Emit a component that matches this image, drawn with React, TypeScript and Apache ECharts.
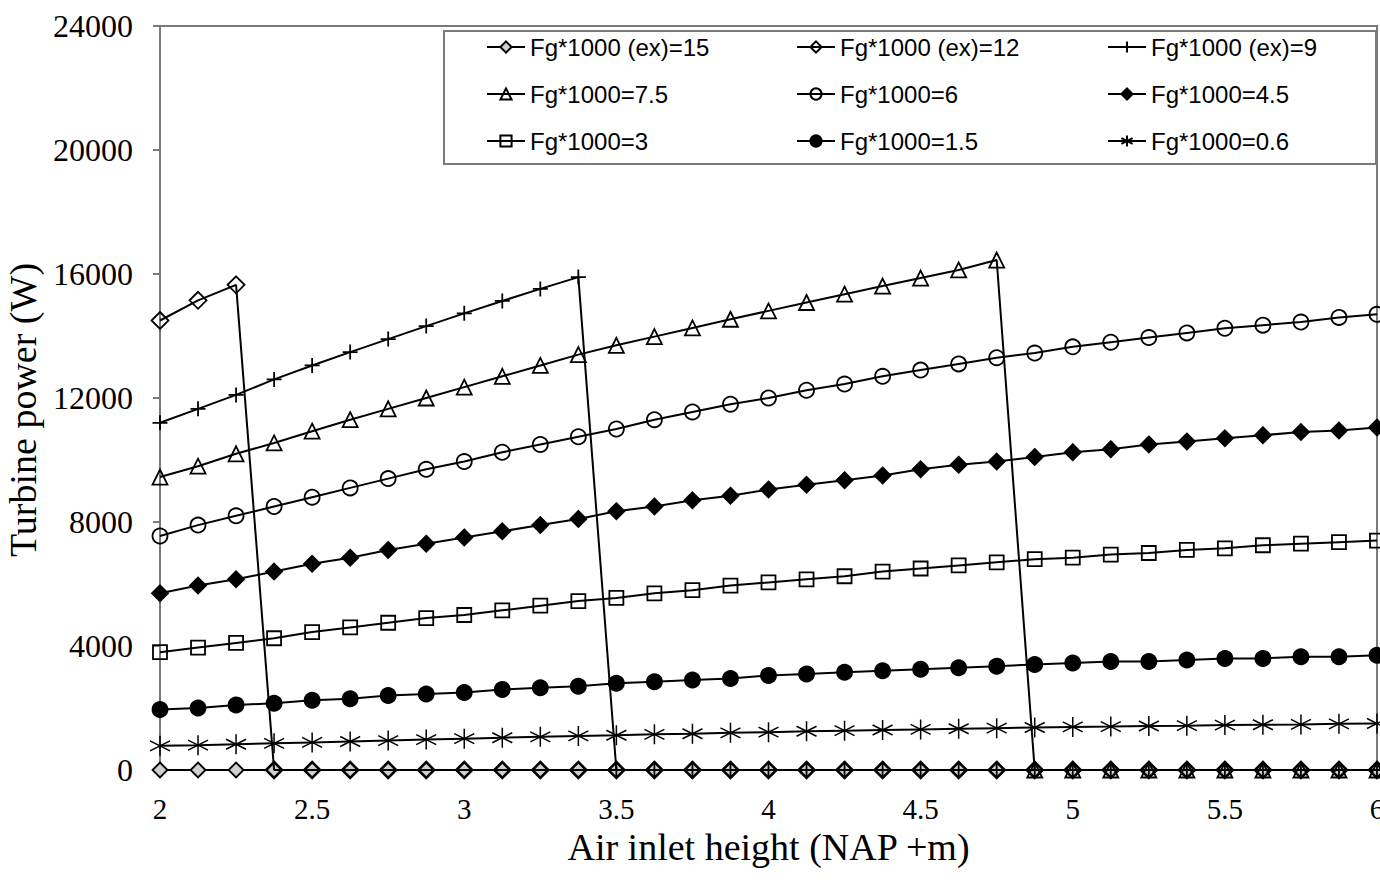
import React, { useEffect, useRef } from "react";
import * as echarts from "echarts";

const xs = [2, 2.125, 2.25, 2.375, 2.5, 2.625, 2.75, 2.875, 3, 3.125, 3.25, 3.375, 3.5, 3.625, 3.75, 3.875, 4, 4.125, 4.25, 4.375, 4.5, 4.625, 4.75, 4.875, 5, 5.125, 5.25, 5.375, 5.5, 5.625, 5.75, 5.875, 6];

const names = [
  "Fg*1000 (ex)=15",
  "Fg*1000 (ex)=12",
  "Fg*1000 (ex)=9",
  "Fg*1000=7.5",
  "Fg*1000=6",
  "Fg*1000=4.5",
  "Fg*1000=3",
  "Fg*1000=1.5",
  "Fg*1000=0.6",
];

const fgEx15 = [0, 0, 0, 0, 0, 0, 0, 0, 0, 0, 0, 0, 0, 0, 0, 0, 0, 0, 0, 0, 0, 0, 0, 0, 0, 0, 0, 0, 0, 0, 0, 0, 0];
const fgEx12 = [14500, 15150, 15650, 0, 0, 0, 0, 0, 0, 0, 0, 0, 0, 0, 0, 0, 0, 0, 0, 0, 0, 0, 0, 0, 0, 0, 0, 0, 0, 0, 0, 0, 0];
const fgEx9 = [11200, 11650, 12100, 12600, 13050, 13480, 13900, 14320, 14730, 15130, 15520, 15900, 0, 0, 0, 0, 0, 0, 0, 0, 0, 0, 0, 0, 0, 0, 0, 0, 0, 0, 0, 0, 0];
const fg75 = [9450, 9800, 10200, 10550, 10930, 11300, 11650, 12000, 12350, 12700, 13050, 13400, 13700, 13980, 14260, 14540, 14810, 15080, 15350, 15610, 15870, 16130, 16450, 0, 0, 0, 0, 0, 0, 0, 0, 0, 0];
const fg6 = [7550, 7900, 8200, 8500, 8800, 9100, 9400, 9700, 9950, 10250, 10500, 10750, 11000, 11300, 11550, 11800, 12000, 12250, 12450, 12700, 12900, 13100, 13300, 13450, 13650, 13800, 13950, 14100, 14250, 14350, 14450, 14600, 14700];
const fg45 = [5700, 5950, 6150, 6400, 6650, 6850, 7100, 7300, 7500, 7700, 7900, 8100, 8350, 8500, 8700, 8850, 9050, 9200, 9350, 9500, 9700, 9850, 9950, 10100, 10250, 10350, 10500, 10600, 10700, 10800, 10900, 10950, 11050];
const fg3 = [3800, 3950, 4100, 4250, 4450, 4600, 4750, 4900, 5000, 5150, 5300, 5450, 5550, 5700, 5800, 5950, 6050, 6150, 6250, 6400, 6500, 6600, 6700, 6800, 6850, 6950, 7000, 7100, 7150, 7250, 7300, 7350, 7400];
const fg15 = [1950, 2000, 2100, 2150, 2250, 2300, 2400, 2450, 2500, 2600, 2650, 2700, 2800, 2850, 2900, 2950, 3050, 3100, 3150, 3200, 3250, 3300, 3350, 3400, 3450, 3500, 3500, 3550, 3600, 3600, 3650, 3650, 3700];
const fg06 = [780, 800, 830, 860, 890, 920, 950, 980, 1010, 1040, 1070, 1100, 1120, 1150, 1170, 1200, 1220, 1250, 1270, 1290, 1310, 1330, 1350, 1370, 1390, 1400, 1420, 1430, 1450, 1460, 1470, 1490, 1500];

const yTicks = [0, 4000, 8000, 12000, 16000, 20000, 24000];
const xTicks = [2, 2.5, 3, 3.5, 4, 4.5, 5, 5.5, 6];

const PLUS = "path://M10,0 L10,20 M0,10 L20,10";
const STAR = "path://M10,0 L10,20 M1.34,5 L18.66,15 M1.34,15 L18.66,5";

const serif = "'Liberation Serif', 'Times New Roman', serif";
const sans = "'Liberation Sans', Arial, sans-serif";
const AXIS_GRAY = "#7a7a7a";

export default function App() {
  const ref = useRef<HTMLDivElement>(null);
  useEffect(() => {
    const chart = echarts.init(ref.current!, null, { renderer: "svg" });
    const values = [fgEx15, fgEx12, fgEx9, fg75, fg6, fg45, fg3, fg15, fg06];
    const styles = [
      { symbol: "diamond", size: 15, fill: "#cfcfcf", bw: 1.8 },
      { symbol: "diamond", size: 17, fill: "rgba(0,0,0,0)", bw: 1.8 },
      { symbol: PLUS, size: 15, fill: "rgba(0,0,0,0)", bw: 1.8 },
      { symbol: "triangle", size: 15, fill: "rgba(0,0,0,0)", bw: 1.8 },
      { symbol: "circle", size: 15, fill: "rgba(0,0,0,0)", bw: 1.8 },
      { symbol: "diamond", size: 16, fill: "#000", bw: 1.8 },
      { symbol: "rect", size: 14, fill: "rgba(0,0,0,0)", bw: 1.8 },
      { symbol: "circle", size: 15, fill: "#000", bw: 1.8 },
      { symbol: STAR, size: 20, fill: "rgba(0,0,0,0)", bw: 1.5 },
    ];
    const series = names.map((name, i) => ({
      type: "line",
      name,
      data: xs.map((x, j) => [x, values[i][j]]),
      symbol: styles[i].symbol,
      symbolSize: styles[i].size,
      showAllSymbol: true,
      clip: false,
      lineStyle: { color: "#000", width: 2 },
      itemStyle: { color: styles[i].fill, borderColor: "#000", borderWidth: styles[i].bw },
      emphasis: { disabled: true },
      z: 2 + i,
    }));
    const legendCommon = {
      orient: "vertical",
      top: 35,
      padding: 0,
      itemWidth: 38,
      itemHeight: 14,
      itemGap: 23,
      selectedMode: false,
      textStyle: { fontFamily: sans, fontSize: 24, color: "#000", lineHeight: 24 },
    };
    chart.setOption({
      animation: false,
      backgroundColor: "#fff",
      grid: {
        left: 160,
        right: 3,
        top: 26,
        bottom: 117,
        outerBoundsMode: "none",
        containLabel: false,
        show: true,
        borderColor: AXIS_GRAY,
        borderWidth: 2,
        backgroundColor: "rgba(0,0,0,0)",
      },
      legend: [
        { ...legendCommon, left: 486, data: [names[0], names[3], names[6]] },
        { ...legendCommon, left: 796, data: [names[1], names[4], names[7]] },
        { ...legendCommon, left: 1107, data: [names[2], names[5], names[8]] },
      ],
      graphic: [
        {
          type: "rect",
          shape: { x: 444, y: 31, width: 932, height: 133 },
          style: { fill: "rgba(0,0,0,0)", stroke: AXIS_GRAY, lineWidth: 2 },
          z: 1,
        },
      ],
      xAxis: {
        type: "value",
        min: xTicks[0],
        max: xTicks[xTicks.length - 1],
        interval: 0.5,
        name: "Air inlet height (NAP +m)",
        nameLocation: "middle",
        nameGap: 57,
        nameTextStyle: { fontFamily: serif, fontSize: 38, color: "#000" },
        axisLine: { lineStyle: { color: AXIS_GRAY, width: 2 } },
        axisTick: { show: true, inside: false, length: 6, lineStyle: { color: AXIS_GRAY, width: 2 } },
        axisLabel: { fontFamily: serif, fontSize: 29, color: "#000", margin: 24, showMaxLabel: true },
        splitLine: { show: false },
      },
      yAxis: {
        type: "value",
        min: yTicks[0],
        max: yTicks[yTicks.length - 1],
        interval: 4000,
        name: "Turbine power (W)",
        nameLocation: "middle",
        nameRotate: 90,
        nameGap: 95,
        nameTextStyle: { fontFamily: serif, fontSize: 38, color: "#000", padding: [0, 24, 0, 0] },
        axisLine: { show: true, lineStyle: { color: AXIS_GRAY, width: 2 } },
        axisTick: { show: true, inside: false, length: 7, lineStyle: { color: AXIS_GRAY, width: 2 } },
        axisLabel: {
          fontFamily: serif,
          fontSize: 32,
          color: "#000",
          margin: 27,
          formatter: (v: number) => String(v),
        },
        splitLine: { show: false },
      },
      series,
    });
    return () => chart.dispose();
  }, []);
  return (
    <div
      ref={ref}
      style={{ position: "absolute", left: 0, top: 0, width: 1380, height: 887, background: "#fff" }}
    />
  );
}
